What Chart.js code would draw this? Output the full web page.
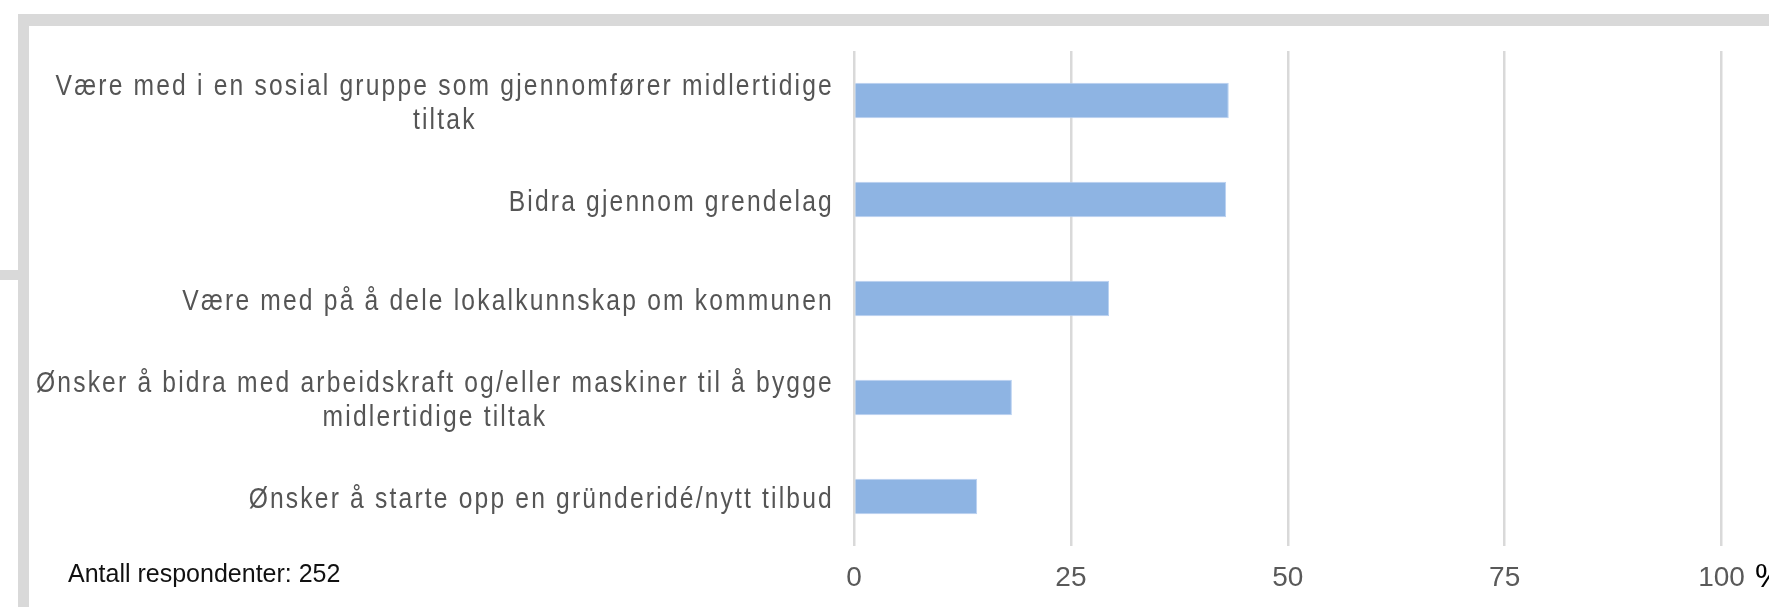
<!DOCTYPE html>
<html lang="no">
<head>
<meta charset="utf-8">
<title>Bidrag</title>
<script src="https://cdn.jsdelivr.net/npm/chart.js@4"></script>
<style>
  html, body { margin: 0; padding: 0; background: #fff; }
  body { width: 1769px; height: 607px; position: relative; overflow: hidden; font-family: "Liberation Sans", Arial, sans-serif; }
  .frame { position: absolute; background: #d9d9d9; }
  #wrap { position: absolute; left: 0; top: 0; width: 1769px; height: 607px; }
  #note { position: absolute; left: 68px; top: 561px; font-size: 25px; line-height: 1; color: #111; white-space: nowrap; }
  #unit { position: absolute; left: 1755px; top: 559px; font-size: 33px; line-height: 1; color: #000; white-space: nowrap; }
</style>
</head>
<body>
<div class="frame" style="left:18px; top:14px; width:1751px; height:12px;"></div>
<div class="frame" style="left:18px; top:14px; width:11px; height:593px;"></div>
<div class="frame" style="left:0; top:270px; width:18px; height:10px;"></div>
<div id="wrap"><canvas id="barChart" width="1769" height="607"></canvas></div>
<div id="note">Antall respondenter: 252</div>
<div id="unit">%</div>
<script>
    // kategorier (linjer per etikett) og andel i prosent
    const categories = [
        ['Være med i en sosial gruppe som gjennomfører midlertidige', 'tiltak'],
        ['Bidra gjennom grendelag'],
        ['Være med på å dele lokalkunnskap om kommunen'],
        ['Ønsker å bidra med arbeidskraft og/eller maskiner til å bygge', 'midlertidige tiltak'],
        ['Ønsker å starte opp en gründeridé/nytt tilbud']
    ];
    const values = [43.2, 42.9, 29.4, 18.2, 14.2];
    const tickLabels = ['0', '25', '50', '75', '100'];

    const labelFont = '29px "Liberation Sans", Arial, sans-serif';
    const labelColor = '#555555';
    const squeeze = 0.85; // smal skrift: skaleres horisontalt

    // Tegner kategorietikettene: blokken høyrejustert mot aksen, linjene sentrert i blokken
    const categoryLabels = {
        id: 'categoryLabels',
        afterDraw(chart) {
            const ctx = chart.ctx;
            const yScale = chart.scales.y;
            const right = chart.chartArea.left - 20;
            const lineHeight = 34;
            ctx.save();
            ctx.font = labelFont;
            ctx.fillStyle = labelColor;
            ctx.letterSpacing = '2.55px';
            ctx.textAlign = 'center';
            ctx.textBaseline = 'middle';
            ctx.scale(squeeze, 1);
            categories.forEach((lines, i) => {
                const cy = yScale.getPixelForTick(i) + 3;
                const widest = Math.max(...lines.map(l => ctx.measureText(l).width)) * squeeze;
                const cx = right - widest / 2;
                const top = cy - (lines.length - 1) * lineHeight / 2;
                lines.forEach((line, j) => {
                    ctx.fillText(line, cx / squeeze, top + j * lineHeight);
                });
            });
            ctx.restore();
        }
    };

    const ctx = document.getElementById('barChart').getContext('2d');
    new Chart(ctx, {
        type: 'bar',
        data: {
            labels: categories.map(l => l.join(' ')),
            datasets: [{
                data: values,
                backgroundColor: '#8eb4e3',
                borderColor: '#b9d1f1',
                borderWidth: 1,
                barPercentage: 0.36,
                categoryPercentage: 1
            }]
        },
        options: {
            indexAxis: 'y',
            responsive: false,
            animation: false,
            layout: { padding: { left: 0, right: 47.5, top: 51, bottom: 0 } },
            plugins: {
                legend: { display: false },
                tooltip: { enabled: false }
            },
            scales: {
                x: {
                    min: 0,
                    max: 100,
                    ticks: {
                        stepSize: 25,
                        padding: 15,
                        color: '#595959',
                        font: { family: '"Liberation Sans", Arial, sans-serif', size: 28 },
                        callback: (v) => tickLabels[v / 25]
                    },
                    grid: { color: '#d9d9d9', lineWidth: 2.5, drawTicks: false },
                    border: { display: false },
                    afterFit(scale) { scale.height = 61; }
                },
                y: {
                    ticks: { display: false },
                    grid: { display: false },
                    border: { display: false },
                    afterFit(scale) { scale.width = 854; }
                }
            }
        },
        plugins: [categoryLabels]
    });
</script>
</body>
</html>
